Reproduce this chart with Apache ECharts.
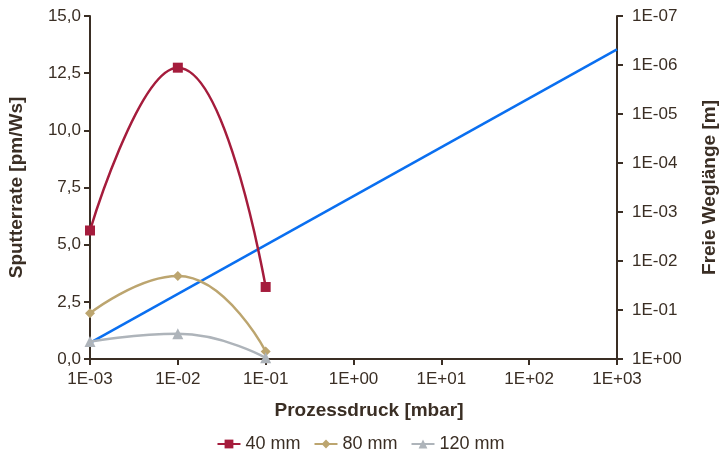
<!DOCTYPE html>
<html>
<head>
<meta charset="utf-8">
<script src="https://cdn.jsdelivr.net/npm/echarts@6/dist/echarts.min.js"></script>
<style>
  html, body { margin: 0; padding: 0; background: #fff; }
  #chart { width: 721px; height: 451px; }
</style>
</head>
<body>
<div id="chart"></div>
<script>
// ─── Daten ─────────────────────────────────────────────
const PRESSURE = [1e-3, 1e-2, 1e-1];           // Prozessdruck [mbar]
const RATE_40 = [5.62, 12.74, 3.15];            // Sputterrate 40 mm
const RATE_80 = [2.0, 3.63, 0.33];              // Sputterrate 80 mm
const RATE_120 = [0.76, 1.1, 0.05];             // Sputterrate 120 mm
const MFP_PRESSURE = [1e-3, 1e3];               // Blaue Linie: Druck
const MFP_LENGTH = [0.47, 4.8e-7];              // Freie Weglänge [m]
const SERIES_NAMES = ["40 mm", "80 mm", "120 mm"];

const TEXT = "#3a2e24";
const FONT = "Liberation Sans";

// 1E-03 Format für log-Achsen
const expLabel = (v) => {
  const e = Math.round(Math.log10(v));
  return "1E" + (e < 0 ? "-" : "+") + String(Math.abs(e)).padStart(2, "0");
};

const pair = (xs, ys) => xs.map((x, i) => [x, ys[i]]);

const chart = echarts.init(document.getElementById("chart"));

const lineSeries = (name, data, color, symbol, size) => ({
  name,
  type: "line",
  smooth: 0.5,
  data: pair(PRESSURE, data),
  symbol,
  symbolSize: size,
  lineStyle: { color, width: 2.5 },
  itemStyle: { color },
  z: 3
});

const tickStyle = { fontSize: 17, color: TEXT, fontFamily: FONT };
const nameStyle = { fontFamily: FONT, fontSize: 19, fontWeight: "bold", color: TEXT };

chart.setOption({
  animation: false,
  textStyle: { fontFamily: FONT, color: TEXT },
  // feste Plotfläche, kein automatisches Einpassen
  grid: { left: 90, right: 104, top: 16, bottom: 92, outerBoundsMode: "none", containLabel: false },
  legend: {
    data: SERIES_NAMES,
    top: 430,
    left: "center",
    itemWidth: 23,
    itemHeight: 11,
    itemGap: 13,
    textStyle: { fontFamily: FONT, fontSize: 18, color: TEXT }
  },
  xAxis: {
    type: "log",
    logBase: 10,
    min: 1e-3,
    max: 1e3,
    name: "Prozessdruck [mbar]",
    nameLocation: "middle",
    nameGap: 42,
    nameTextStyle: Object.assign({ padding: [0, 0, 0, 31] }, nameStyle),
    axisLine: { lineStyle: { color: TEXT, width: 2 } },
    axisTick: { lineStyle: { color: TEXT, width: 2 }, length: 6 },
    minorTick: { show: false },
    splitLine: { show: false },
    axisLabel: Object.assign({ formatter: expLabel, margin: 12 }, tickStyle)
  },
  yAxis: [
    {
      type: "value",
      min: 0,
      max: 15,
      interval: 2.5,
      name: "Sputterrate [pm/Ws]",
      nameLocation: "middle",
      nameRotate: 90,
      nameGap: 64,
      nameTextStyle: nameStyle,
      axisLine: { show: true, lineStyle: { color: TEXT, width: 2 } },
      axisTick: { show: true, lineStyle: { color: TEXT, width: 2 }, length: 6 },
      splitLine: { show: false },
      axisLabel: Object.assign({ formatter: (v) => v.toFixed(1).replace(".", ","), margin: 9 }, tickStyle)
    },
    {
      type: "log",
      logBase: 10,
      min: 1e-7,
      max: 1,
      inverse: true,
      position: "right",
      name: "Freie Weglänge [m]",
      nameLocation: "middle",
      nameRotate: 90,
      nameGap: 83,
      nameTextStyle: nameStyle,
      axisLine: { show: true, lineStyle: { color: TEXT, width: 2 } },
      axisTick: { show: true, lineStyle: { color: TEXT, width: 2 }, length: 6 },
      minorTick: { show: false },
      splitLine: { show: false },
      axisLabel: Object.assign({ formatter: expLabel, margin: 15 }, tickStyle)
    }
  ],
  series: [
    lineSeries(SERIES_NAMES[0], RATE_40, "#a51c3c", "rect", 10),
    lineSeries(SERIES_NAMES[1], RATE_80, "#bca56f", "diamond", 10),
    lineSeries(SERIES_NAMES[2], RATE_120, "#aeb4ba", "triangle", 11),
    {
      name: "Freie Weglänge",
      type: "line",
      yAxisIndex: 1,
      data: pair(MFP_PRESSURE, MFP_LENGTH),
      symbol: "none",
      lineStyle: { color: "#0a6ff0", width: 2.5 },
      z: 2
    }
  ]
});
</script>
</body>
</html>
